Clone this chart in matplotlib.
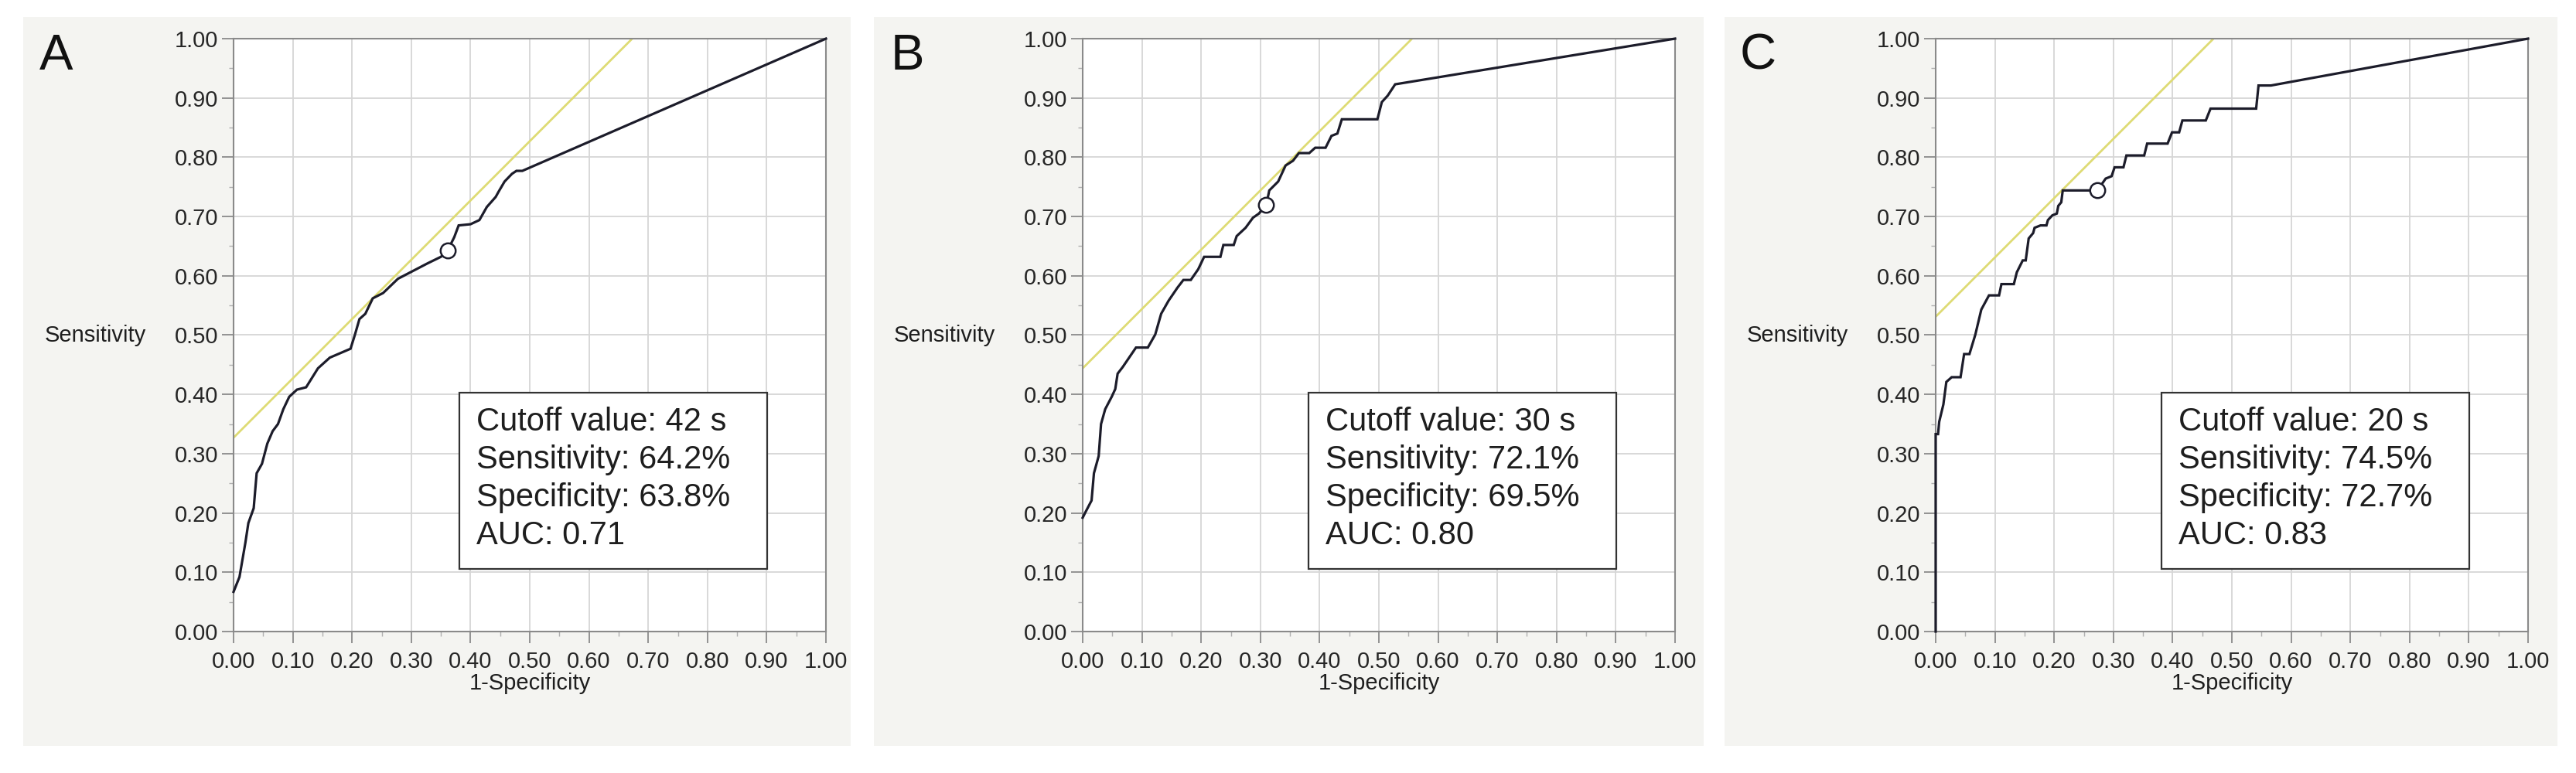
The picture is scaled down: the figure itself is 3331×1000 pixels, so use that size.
import matplotlib.pyplot as plt
import matplotlib.patches as mpatches
from matplotlib.ticker import MultipleLocator, FormatStrFormatter

plt.rcParams['font.family'] = ['Liberation Sans', 'DejaVu Sans']

# ── data ────────────────────────────────────────────────
panel_labels = ["A", "B", "C"]

fpr_a = [0.0, 0.01, 0.02, 0.025, 0.034, 0.039, 0.048, 0.057, 0.066, 0.075,
         0.084, 0.094, 0.107, 0.1225, 0.1425, 0.1625, 0.1975, 0.205, 0.2125,
         0.2225, 0.235, 0.2525, 0.2775, 0.3025, 0.3275, 0.35, 0.3615, 0.3725,
         0.38, 0.40, 0.415, 0.4275, 0.4425, 0.4475, 0.4575, 0.47, 0.4775,
         0.4875, 1.0]
tpr_a = [0.067, 0.092, 0.15, 0.183, 0.208, 0.267, 0.283, 0.317, 0.338, 0.35,
         0.375, 0.396, 0.408, 0.412, 0.444, 0.462, 0.477, 0.501, 0.527,
         0.536, 0.562, 0.571, 0.595, 0.608, 0.621, 0.632, 0.643, 0.665,
         0.685, 0.687, 0.694, 0.716, 0.733, 0.742, 0.759, 0.772, 0.777,
         0.777, 1.0]

fpr_b = [0.0, 0.004, 0.015, 0.019, 0.027, 0.031, 0.038, 0.049, 0.055, 0.059,
         0.0675, 0.075, 0.09, 0.11, 0.1225, 0.1325, 0.145, 0.16, 0.17, 0.1825,
         0.195, 0.205, 0.2325, 0.2375, 0.255, 0.26, 0.275, 0.2875, 0.2975,
         0.31, 0.315, 0.33, 0.3425, 0.355, 0.365, 0.3825, 0.3925, 0.41, 0.42,
         0.43, 0.4375, 0.4975, 0.505, 0.515, 0.5275, 1.0]
tpr_b = [0.192, 0.2, 0.221, 0.267, 0.296, 0.35, 0.375, 0.396, 0.409, 0.435,
         0.446, 0.457, 0.479, 0.479, 0.501, 0.536, 0.558, 0.58, 0.593, 0.593,
         0.611, 0.632, 0.632, 0.652, 0.652, 0.667, 0.681, 0.698, 0.705,
         0.72, 0.744, 0.759, 0.786, 0.794, 0.807, 0.807, 0.816, 0.816, 0.836,
         0.84, 0.864, 0.864, 0.893, 0.904, 0.923, 1.0]

fpr_c = [0.0, 0.0, 0.004, 0.006, 0.013, 0.018, 0.027, 0.042, 0.048, 0.057,
         0.067, 0.077, 0.09, 0.107, 0.111, 0.132, 0.137, 0.147, 0.152, 0.157,
         0.1645, 0.167, 0.177, 0.187, 0.1895, 0.197, 0.2045, 0.207, 0.212,
         0.2145, 0.273, 0.287, 0.297, 0.302, 0.317, 0.322, 0.352, 0.357,
         0.3915, 0.399, 0.411, 0.4165, 0.456, 0.464, 0.541, 0.545, 0.566, 1.0]
tpr_c = [0.0, 0.333, 0.333, 0.354, 0.383, 0.421, 0.429, 0.429, 0.468, 0.468,
         0.501, 0.543, 0.567, 0.567, 0.586, 0.586, 0.606, 0.626, 0.626, 0.663,
         0.672, 0.681, 0.685, 0.685, 0.694, 0.702, 0.705, 0.718, 0.724,
         0.744, 0.744, 0.764, 0.768, 0.783, 0.783, 0.803, 0.803, 0.823,
         0.823, 0.842, 0.842, 0.862, 0.862, 0.882, 0.882, 0.921, 0.921, 1.0]

cutoff_fpr = [0.362, 0.310, 0.273]
cutoff_tpr = [0.643, 0.720, 0.744]
tangent_intercepts = [0.327, 0.444, 0.531]

cutoff_values = [42, 30, 20]
sensitivities = [64.2, 72.1, 74.5]
specificities = [63.8, 69.5, 72.7]
aucs = [0.71, 0.80, 0.83]

fprs = [fpr_a, fpr_b, fpr_c]
tprs = [tpr_a, tpr_b, tpr_c]

# ── layout (pixels of the 3331x1000 canvas) ─────────────
W, H = 3331, 1000
bg_left = [30, 1130, 2230]
bg_right = [1100, 2203, 3307]
bg_top, bg_bottom = 22, 965
ax_left = [302, 1400, 2503]
ax_width = 766
ax_top, ax_bottom = 50, 817

BG = "#f4f4f1"
GRID = "#d6d6d6"
SPINE = "#8a8a8a"
CURVE = "#1c1c2a"
TANGENT = "#dedb74"
TEXT = "#1e1e1e"

fig = plt.figure(figsize=(W / 100, H / 100), dpi=100)
fig.patch.set_facecolor("white")

for i in range(3):
    # grey panel background (drawn behind the axes)
    fig.patches.append(mpatches.Rectangle(
        (bg_left[i] / W, 1 - bg_bottom / H),
        (bg_right[i] - bg_left[i]) / W, (bg_bottom - bg_top) / H,
        transform=fig.transFigure, facecolor=BG, edgecolor="none",
        zorder=-5))

    ax = fig.add_axes([ax_left[i] / W, 1 - ax_bottom / H,
                       ax_width / W, (ax_bottom - ax_top) / H])
    ax.set_facecolor("white")
    ax.set_xlim(0, 1)
    ax.set_ylim(0, 1)

    ax.xaxis.set_major_locator(MultipleLocator(0.1))
    ax.yaxis.set_major_locator(MultipleLocator(0.1))
    ax.xaxis.set_minor_locator(MultipleLocator(0.05))
    ax.yaxis.set_minor_locator(MultipleLocator(0.05))
    ax.xaxis.set_major_formatter(FormatStrFormatter("%.2f"))
    ax.yaxis.set_major_formatter(FormatStrFormatter("%.2f"))
    ax.grid(which="major", color=GRID, linewidth=1.3)
    ax.set_axisbelow(True)

    ax.tick_params(which="major", direction="out", length=11, width=1.3,
                   color=SPINE, labelsize=21, labelcolor="#262626")
    ax.tick_params(which="minor", direction="out", length=4, width=1.0,
                   color="#b0b0b0")
    ax.tick_params(axis="y", which="major", pad=3)
    ax.tick_params(axis="x", which="major", pad=7)
    for sp in ax.spines.values():
        sp.set_color(SPINE)
        sp.set_linewidth(1.5)

    # tangent (yellow) line with slope 1
    ax.axline((0, tangent_intercepts[i]), slope=1, color=TANGENT,
              linewidth=2.0, zorder=2)

    # ROC curve
    ax.plot(fprs[i], tprs[i], color=CURVE, linewidth=2.3, zorder=3,
            clip_on=False, solid_joinstyle="miter")
    ax.plot(cutoff_fpr[i], cutoff_tpr[i], "o", markersize=14,
            markerfacecolor="white", markeredgecolor=CURVE,
            markeredgewidth=1.8, zorder=4)

    # info box
    ax.add_patch(mpatches.Rectangle((0.381, 0.105), 0.52, 0.298,
                                    facecolor="white", edgecolor="#333333",
                                    linewidth=1.6, zorder=5))
    info = (f"Cutoff value: {cutoff_values[i]} s\n"
            f"Sensitivity: {sensitivities[i]:.1f}%\n"
            f"Specificity: {specificities[i]:.1f}%\n"
            f"AUC: {aucs[i]:.2f}")
    ax.text(0.41, 0.38, info, fontsize=30, color=TEXT, ha="left", va="top",
            linespacing=1.3, zorder=6)

    ax.text(-0.147, 0.5, "Sensitivity", transform=ax.transAxes, fontsize=21,
            color=TEXT, ha="right", va="center")
    ax.text(0.5, -0.087, "1-Specificity", transform=ax.transAxes,
            fontsize=21, color=TEXT, ha="center", va="center")

    fig.text((bg_left[i] + 43) / W, 1 - 73 / H, panel_labels[i], fontsize=47,
             color="#111111", ha="center", va="center")

fig.savefig("out.png", dpi=100, facecolor="white")
